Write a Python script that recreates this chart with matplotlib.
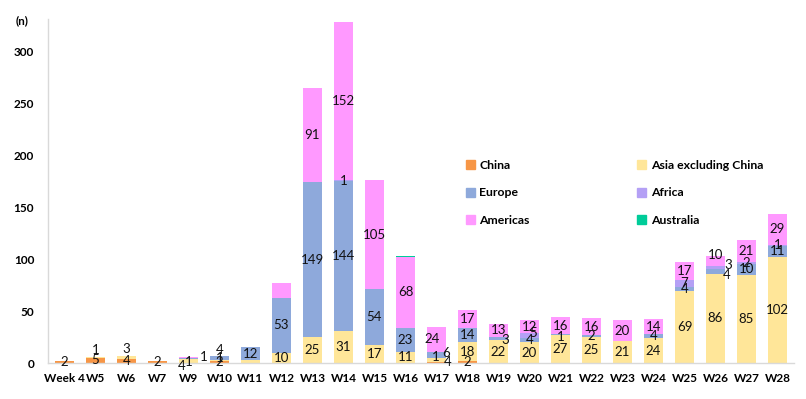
import matplotlib
matplotlib.use("Agg")
import matplotlib.pyplot as plt
from matplotlib.patches import Patch
import numpy as np

# 周别
weeks = ["Week 4", "W5", "W6", "W7", "W9", "W10", "W11", "W12", "W13", "W14",
         "W15", "W16", "W17", "W18", "W19", "W20", "W21", "W22", "W23", "W24",
         "W25", "W26", "W27", "W28"]

# 各地区病例数 (n)
china = [2, 5, 4, 2, 0, 2, 0, 0, 0, 0, 0, 0, 1, 2, 0, 0, 0, 0, 0, 0, 0, 0, 0, 0]
asia_ex_china = [0, 1, 3, 0, 4, 1, 3, 10, 25, 31, 17, 11, 4, 18, 22, 20, 27, 25, 21, 24, 69, 86, 85, 102]
europe = [0, 0, 0, 0, 1, 4, 12, 53, 149, 144, 54, 23, 6, 14, 3, 4, 1, 2, 0, 4, 4, 4, 10, 11]
africa = [0, 0, 0, 0, 0, 0, 0, 0, 0, 1, 0, 0, 0, 0, 0, 5, 0, 0, 0, 0, 7, 3, 2, 1]
americas = [0, 0, 0, 0, 1, 0, 0, 14, 91, 152, 105, 68, 24, 17, 13, 12, 16, 16, 20, 14, 17, 10, 21, 29]
australia = [0, 0, 0, 0, 0, 0, 0, 0, 0, 0, 0, 1, 0, 0, 0, 0, 0, 0, 0, 0, 0, 0, 0, 0]

series = [
    ("China", china, "#F79646"),
    ("Asia excluding China", asia_ex_china, "#FFE699"),
    ("Europe", europe, "#8EA9DB"),
    ("Africa", africa, "#B4A0F5"),
    ("Americas", americas, "#FF99FF"),
    ("Australia", australia, "#00CC99"),
]

# 不显示的标签
hidden = {("W11", "Asia excluding China"), ("W12", "Americas"), ("W16", "Australia")}
# 小段标签的偏移 (像素)
offsets = {
    ("W5", "Asia excluding China"): (0, 7),
    ("W6", "Asia excluding China"): (0, 8),
    ("W9", "Asia excluding China"): (-7, -5),
    ("W9", "Europe"): (0, -4),
    ("W9", "Americas"): (15, 0),
    ("W10", "Europe"): (0, 8),
    ("W10", "Asia excluding China"): (0, 2),
    ("W17", "China"): (-1, 5),
    ("W17", "Asia excluding China"): (11, -2),
    ("W17", "Europe"): (10, 2),
    ("W17", "Americas"): (-4, 0),
    ("W19", "Europe"): (7, -1),
    ("W20", "Africa"): (4, 2),
    ("W21", "Europe"): (0, -3),
    ("W26", "Europe"): (11, -3),
    ("W26", "Africa"): (13, 3),
    ("W26", "Americas"): (0, 6),
}

plt.rcParams["font.family"] = ["Lato", "DejaVu Sans"]

fig = plt.figure(figsize=(8.06, 3.99), dpi=100)
ax = fig.add_axes([48 / 806, 36 / 399, (794 - 48) / 806, (363 - 19) / 399])

x = np.arange(len(weeks))
bottom = np.zeros(len(weeks))
for name, vals, color in series:
    vals = np.array(vals, dtype=float)
    ax.bar(x, vals, 0.6, bottom=bottom, color=color, linewidth=0)
    for i, v in enumerate(vals):
        if v <= 0 or (weeks[i], name) in hidden:
            continue
        dx, dy = offsets.get((weeks[i], name), (0, 0))
        ax.annotate(f"{int(v)}", (x[i], bottom[i] + v / 2), xytext=(dx * 0.72, dy * 0.72),
                    textcoords="offset points", ha="center", va="center",
                    fontsize=9.5, color="#111111")
    bottom += vals

ax.set_xlim(-0.53, len(weeks) - 0.47)
ax.set_ylim(0, 331)
ax.set_yticks(range(0, 301, 50))
ax.set_xticks(x)
ax.set_xticklabels(weeks)
ax.tick_params(length=0, labelsize=8.5)
ax.tick_params(axis="y", pad=10)
ax.tick_params(axis="x", pad=7)
for lbl in ax.get_xticklabels() + ax.get_yticklabels():
    lbl.set_fontweight("bold")

for s in ["top", "right"]:
    ax.spines[s].set_visible(False)
for s in ["left", "bottom"]:
    ax.spines[s].set_color("#D9D9D9")
    ax.spines[s].set_linewidth(1)

fig.text(22 / 806, 1 - 21 / 399, "(n)", ha="center", va="center",
         fontsize=8.5, fontweight="bold")

# 图例: 两列
handles = {name: Patch(color=color) for name, _, color in series}
order = ["China", "Europe", "Americas", "Asia excluding China", "Africa", "Australia"]
leg = ax.legend([handles[n] for n in order], order, ncol=2, frameon=False,
                loc="upper left", bbox_to_anchor=(466 / 806, 1 - 160 / 399),
                bbox_transform=fig.transFigure, borderpad=0, borderaxespad=0,
                handlelength=0.7, handleheight=0.7, handletextpad=0.4,
                labelspacing=1.35, columnspacing=8.8,
                prop={"weight": "bold", "size": 8.8})

fig.savefig("out.png", dpi=100)
